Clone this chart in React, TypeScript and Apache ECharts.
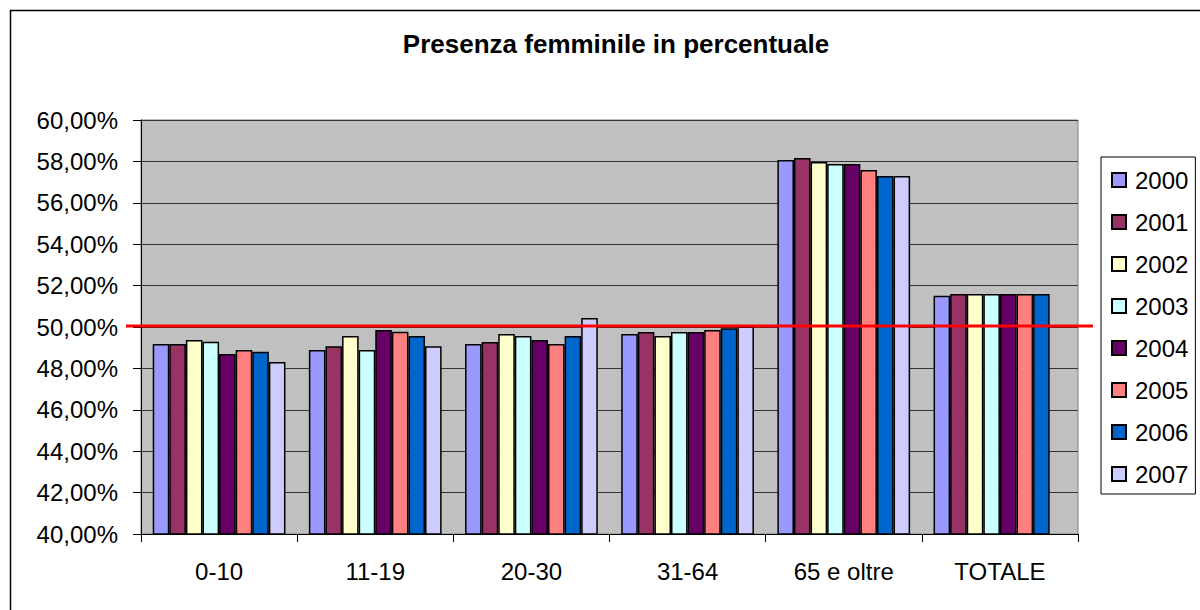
import React, { useEffect, useRef } from "react";
import * as echarts from "echarts";

const categories = ["0-10", "11-19", "20-30", "31-64", "65 e oltre", "TOTALE"];
const years = ["2000", "2001", "2002", "2003", "2004", "2005", "2006", "2007"];

const v2000 = [49.18, 48.89, 49.18, 49.66, 58.07, 51.51];
const v2001 = [49.18, 49.07, 49.28, 49.76, 58.16, 51.59];
const v2002 = [49.37, 49.57, 49.66, 49.57, 57.97, 51.59];
const v2003 = [49.29, 48.89, 49.57, 49.76, 57.87, 51.59];
const v2004 = [48.70, 49.86, 49.37, 49.76, 57.87, 51.59];
const v2005 = [48.89, 49.77, 49.18, 49.86, 57.58, 51.59];
const v2006 = [48.81, 49.57, 49.57, 49.94, 57.29, 51.59];
const v2007 = [48.31, 49.07, 50.43, 50.02, 57.29, null];

const seriesValues = [v2000, v2001, v2002, v2003, v2004, v2005, v2006, v2007];
const colors = ["#9999FF", "#993366", "#FFFFCC", "#CCFFFF", "#660066", "#FF8080", "#0066CC", "#CCCCFF"];

const yMin = 40;
const yMax = 60;
const yInterval = 2;
const threshold = 50;

export default function App() {
  const ref = useRef<HTMLDivElement>(null);

  useEffect(() => {
    if (!ref.current) return;
    const chart = echarts.init(ref.current, null, { renderer: "svg" });
    const font = "Liberation Sans, Arial, sans-serif";

    const border = {
      type: "rect",
      id: "border",
      left: 8,
      top: 8,
      shape: { width: 1200, height: 620 },
      style: { fill: "none", stroke: "#000", lineWidth: 1.5 },
      silent: true,
    };

    const series: any[] = years.map((y, i) => ({
      name: y,
      type: "bar",
      data: seriesValues[i],
      barGap: "0%",
      barCategoryGap: "15%",
      itemStyle: { color: colors[i], borderColor: "#000000", borderWidth: 1.5 },
    }));

    chart.setOption({
      animation: false,
      backgroundColor: "#FFFFFF",
      title: {
        text: "Presenza femminile in percentuale",
        left: 611,
        textAlign: "center",
        top: 26,
        textStyle: { fontFamily: font, fontSize: 26, fontWeight: "bold", color: "#000" },
      },
      graphic: [border],
      legend: {
        orient: "vertical",
        left: 1101,
        top: 157,
        itemWidth: 14,
        itemHeight: 14,
        itemGap: 18,
        padding: [11, 7, 8, 10],
        borderColor: "#000",
        borderWidth: 1,
        backgroundColor: "#FFFFFF",
        icon: "rect",
        textStyle: { fontFamily: font, fontSize: 24, color: "#000", lineHeight: 24, padding: [0, 0, 0, 4] },
        data: years,
      },
      grid: {
        left: 141,
        right: 122,
        top: 120,
        bottom: 76,
        show: true,
        backgroundColor: "#C0C0C0",
        borderColor: "#808080",
        borderWidth: 1,
      },
      xAxis: {
        type: "category",
        data: categories,
        axisLine: { show: true, lineStyle: { color: "#000", width: 1 } },
        axisTick: { show: true, length: 8, lineStyle: { color: "#000" } },
        axisLabel: { fontFamily: font, fontSize: 24, color: "#000", margin: 25 },
      },
      yAxis: {
        type: "value",
        min: yMin,
        max: yMax,
        interval: yInterval,
        axisLine: { show: true, lineStyle: { color: "#000", width: 1 } },
        axisTick: { show: true, length: 8, inside: false, lineStyle: { color: "#000" } },
        splitLine: { show: true, lineStyle: { color: "#333333", width: 1 } },
        axisLabel: {
          fontFamily: font,
          fontSize: 24,
          color: "#000",
          margin: 23,
          formatter: (v: number) => v.toFixed(2).replace(".", ",") + "%",
        },
      },
      series,
    });

    const yPix = chart.convertToPixel({ yAxisIndex: 0 }, threshold) as number;
    chart.setOption({
      graphic: [
        border,
        {
          type: "line",
          id: "threshold",
          z: 100,
          silent: true,
          shape: { x1: 126, y1: yPix - 1, x2: 1093, y2: yPix - 1 },
          style: { stroke: "#FF0000", lineWidth: 3 },
        },
      ],
    });

    return () => chart.dispose();
  }, []);

  return <div ref={ref} style={{ width: 1200, height: 610, position: "absolute", left: 0, top: 0 }} />;
}
